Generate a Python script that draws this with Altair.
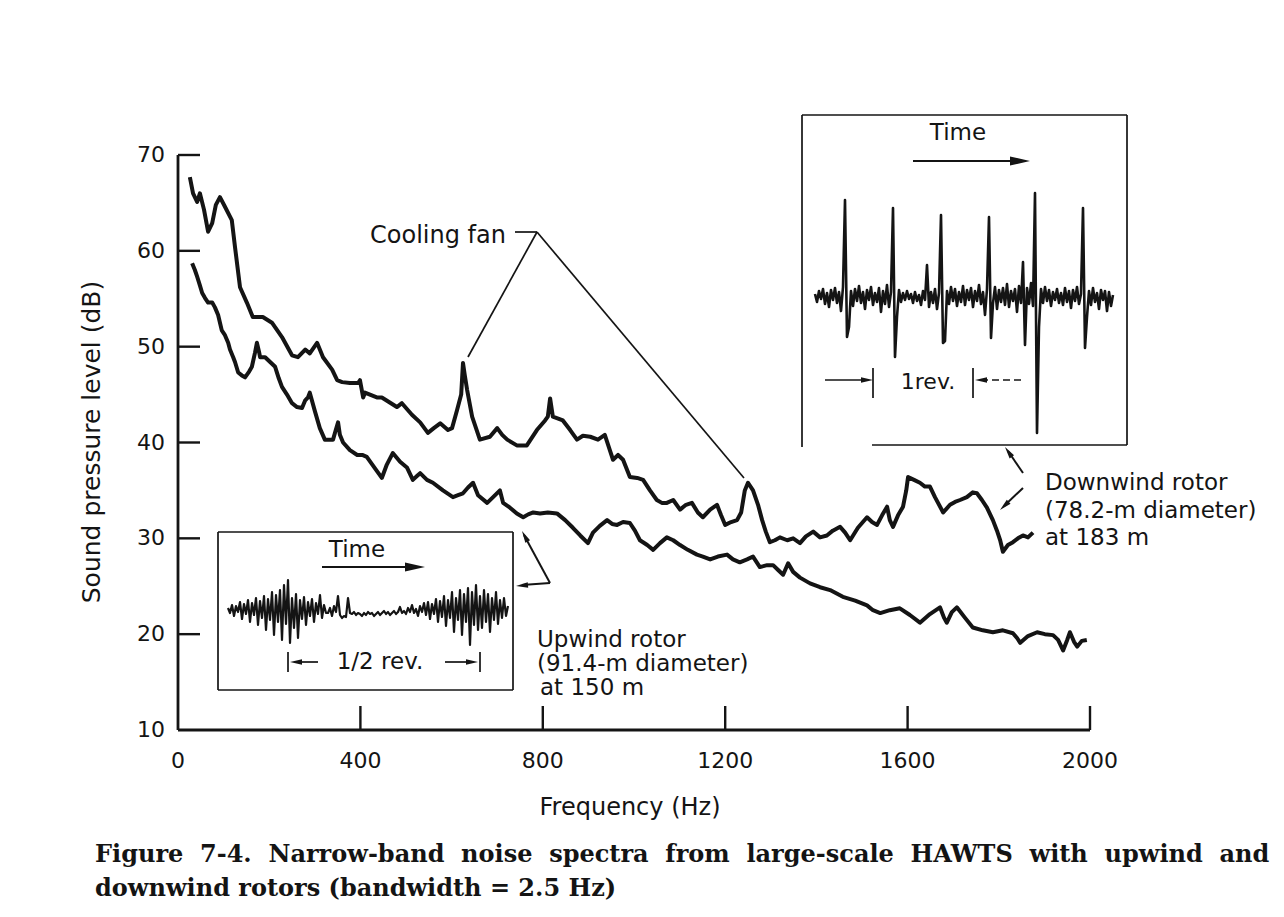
import altair as alt
import pandas as pd

INK = "#141414"
SANS = "DejaVu Sans"
SERIF = "DejaVu Serif"

# ---------------- data ----------------
# Downwind rotor (78.2-m diameter) at 183 m : frequency (Hz) / level (dB)
down_freq = [26, 33, 42, 48, 57, 66, 75, 83, 92, 103, 118, 125, 136, 151, 164, 186, 206, 228, 250, 263,
             279, 289, 305, 318, 338, 349, 360, 377, 395, 399, 406, 410, 436, 447, 480, 491, 513, 531, 548, 561,
             575, 592, 601, 612, 621, 625, 629, 634, 645, 662, 684, 700, 711, 722, 743, 765, 787, 805, 811, 816,
             822, 844, 860, 875, 888, 904, 921, 936, 947, 954, 965, 976, 991, 1007, 1020, 1035, 1050, 1061, 1072, 1086,
             1101, 1114, 1127, 1140, 1151, 1167, 1182, 1191, 1200, 1213, 1226, 1235, 1243, 1250, 1261, 1272, 1281, 1289, 1298, 1309,
             1320, 1336, 1349, 1364, 1377, 1393, 1408, 1423, 1436, 1452, 1463, 1474, 1491, 1511, 1522, 1533, 1544, 1555, 1561, 1568,
             1579, 1590, 1597, 1601, 1614, 1627, 1638, 1649, 1660, 1678, 1693, 1704, 1715, 1730, 1743, 1752, 1763, 1774, 1787, 1796,
             1803, 1809, 1820, 1831, 1842, 1853, 1864, 1875]
down_db = [67.7, 66.0, 65.1, 66.0, 64.3, 62.0, 62.9, 64.8, 65.6, 64.6, 63.2, 60.4, 56.2, 54.6, 53.1, 53.1, 52.5, 51.0, 49.1, 48.9,
           49.7, 49.3, 50.4, 48.9, 47.6, 46.5, 46.3, 46.2, 46.2, 46.5, 44.7, 45.2, 44.7, 44.7, 43.7, 44.1, 42.9, 42.1, 41.0, 41.5,
           42.0, 41.3, 41.5, 43.4, 45.0, 48.3, 47.0, 45.5, 42.7, 40.3, 40.6, 41.5, 40.8, 40.3, 39.7, 39.7, 41.3, 42.3, 42.7, 44.6,
           42.7, 42.3, 41.3, 40.3, 40.7, 40.6, 40.3, 40.8, 39.2, 38.2, 38.7, 38.2, 36.4, 36.3, 36.1, 35.0, 34.0, 33.7, 33.7, 34.0,
           33.0, 33.5, 33.7, 32.7, 32.2, 33.0, 33.5, 32.4, 31.4, 31.7, 31.9, 32.7, 35.0, 35.8, 35.0, 33.5, 31.9, 30.7, 29.6, 29.8,
           30.1, 29.8, 30.0, 29.5, 30.2, 30.7, 30.1, 30.3, 30.8, 31.2, 30.6, 29.8, 31.1, 32.2, 31.7, 31.4, 32.4, 33.3, 31.9, 31.2,
           32.4, 33.3, 35.0, 36.4, 36.1, 35.8, 35.4, 35.4, 34.3, 32.7, 33.5, 33.8, 34.0, 34.3, 34.8, 34.7, 34.0, 33.2, 31.9, 30.8,
           29.8, 28.6, 29.3, 29.6, 30.0, 30.3, 30.1, 30.6]

# Upwind rotor (91.4-m diameter) at 150 m
up_freq = [31, 37, 42, 48, 53, 59, 66, 75, 81, 88, 96, 103, 110, 114, 121, 125, 132, 140, 147, 156,
           162, 169, 173, 178, 180, 191, 202, 213, 221, 228, 239, 250, 261, 272, 279, 285, 289, 300, 311, 322,
           340, 346, 351, 355, 362, 377, 393, 404, 414, 432, 447, 458, 471, 487, 502, 515, 524, 531, 546, 559,
           581, 603, 614, 625, 636, 647, 658, 678, 691, 706, 713, 728, 743, 757, 768, 779, 794, 811, 831, 849,
           866, 882, 899, 904, 910, 925, 941, 952, 963, 976, 991, 1002, 1013, 1029, 1042, 1057, 1072, 1086, 1101, 1118,
           1138, 1151, 1167, 1184, 1204, 1217, 1232, 1248, 1261, 1276, 1292, 1305, 1316, 1327, 1338, 1349, 1364, 1386, 1408, 1430,
           1458, 1485, 1511, 1524, 1540, 1561, 1583, 1605, 1627, 1649, 1671, 1680, 1686, 1697, 1708, 1726, 1743, 1765, 1787, 1809,
           1831, 1840, 1847, 1864, 1884, 1901, 1919, 1930, 1941, 1950, 1956, 1965, 1972, 1982, 1993]
up_db = [58.7, 58.0, 57.3, 56.4, 55.6, 55.1, 54.6, 54.6, 54.1, 53.3, 51.7, 51.2, 50.4, 49.7, 48.9, 48.4, 47.3, 47.0, 46.8, 47.4,
         47.9, 49.4, 50.4, 49.4, 48.9, 48.9, 48.4, 47.9, 46.7, 45.8, 45.0, 44.1, 43.7, 43.6, 44.4, 44.7, 45.2, 43.3, 41.5, 40.3,
         40.3, 41.3, 42.1, 40.8, 40.0, 39.2, 38.7, 38.7, 38.5, 37.3, 36.3, 37.7, 38.9, 38.0, 37.4, 36.1, 36.5, 36.8, 36.1, 35.8,
         35.0, 34.3, 34.5, 34.7, 35.3, 35.8, 34.5, 33.7, 34.3, 35.0, 33.7, 33.2, 32.6, 32.2, 32.5, 32.7, 32.6, 32.7, 32.6, 31.9,
         31.1, 30.3, 29.5, 30.0, 30.6, 31.3, 31.9, 31.5, 31.4, 31.7, 31.6, 30.8, 29.8, 29.3, 28.8, 29.5, 30.1, 29.8, 29.3, 28.8,
         28.3, 28.1, 27.8, 28.1, 28.3, 27.8, 27.5, 27.8, 28.1, 27.0, 27.2, 27.2, 26.7, 26.2, 27.4, 26.5, 25.9, 25.3, 24.9, 24.6,
         23.9, 23.5, 23.0, 22.5, 22.2, 22.5, 22.7, 22.0, 21.2, 22.1, 22.8, 21.7, 21.2, 22.3, 22.8, 21.7, 20.7, 20.4, 20.2, 20.4,
         20.1, 19.6, 19.1, 19.8, 20.2, 20.0, 19.9, 19.4, 18.3, 19.4, 20.2, 19.2, 18.7, 19.3, 19.4]

# inset time traces (relative amplitude, one sample per step)
down_trace = [3, -5, 6, -2, 8, -7, 4, -10, 7, -3, 9, -6, 5, -14, 10, 97, -40, -30, 6, -9,
              8, -4, 11, -6, 5, -12, 7, -3, 10, -8, 4, -5, 9, -15, 6, -7, 12, -10, 5, 89,
              -60, -20, 7, -5, 4, -3, 6, -2, 3, -6, 5, -4, 2, -8, 6, -3, 32, -10, 5, -6,
              8, -12, 4, 82, -46, -44, 6, -7, 10, -4, 8, -9, 5, -5, 11, -8, 7, -3, 9, -10,
              6, -4, 12, -7, 5, -18, 8, 80, -41, -6, 10, -12, 7, -5, 9, -8, 13, -10, 6, -4,
              8, -15, 11, -6, 35, -48, 9, -7, 14, -9, 104, -136, -30, 8, -6, 10, -4, 7, -9, 5,
              -3, 8, -6, 4, -8, 9, -5, 6, -11, 7, -4, 10, -7, 3, 89, -51, -20, 6, -8, 9,
              -5, 4, -12, 7, -3, 6, -14, 5, -9, 2]
up_trace = [2, -3, 5, -6, 4, -2, 8, -9, 6, -4, 10, -12, 7, -5, 12, -15, 9, -8, 14, -20,
            11, -10, 18, -25, 15, -12, 20, -30, 25, -14, 30, -33, 12, -18, 16, -28, 10, -9, 13, -15,
            8, -6, 11, -12, 7, -4, 15, -8, 5, -3, -3, 2, -6, 4, -2, 14, -5, -8, -6, -7,
            12, -3, -4, -2, -5, -3, -4, -6, -3, -5, -2, -4, -3, -6, -4, -2, -5, -3, -1, -4,
            -2, -5, -3, -1, -4, -2, 3, -3, -1, -4, 2, -2, 5, -3, 1, -6, 4, -2, 7, -5,
            8, -9, 6, -4, 11, -12, 9, -7, 14, -16, 10, -8, 18, -22, 12, -10, 20, -25, 16, -12,
            22, -35, 18, -15, 25, -20, 14, -18, 20, -12, 16, -22, 12, -10, 18, -14, 10, -8, 12, -6, 4]

x_labels = [0, 400, 800, 1200, 1600, 2000]
y_labels = [10, 20, 30, 40, 50, 60, 70]
x_ticks = [400, 800, 1200, 1600, 2000]
y_ticks = [20, 30, 40, 50, 60, 70]
x_title = "Frequency (Hz)"
y_title = "Sound pressure level (dB)"

caption1 = "Figure 7-4. Narrow-band noise spectra from large-scale HAWTS with upwind and"
caption2 = "downwind rotors (bandwidth = 2.5 Hz)"

if len(down_freq) != len(down_db) or len(up_freq) != len(up_db):
    raise SystemExit("length mismatch %d %d %d %d" % (len(down_freq), len(down_db), len(up_freq), len(up_db)))

# ---------------- chart ----------------
W, H = 912, 575
XMAX, YMIN, YMAX = 2000, 10, 70
xs = alt.Scale(domain=[0, XMAX], nice=False, zero=False)
ys = alt.Scale(domain=[YMIN, YMAX], nice=False, zero=False)

spec_df = pd.concat([
    pd.DataFrame({"f": down_freq, "db": down_db, "rotor": "Downwind"}),
    pd.DataFrame({"f": up_freq, "db": up_db, "rotor": "Upwind"}),
])

curves = alt.Chart(spec_df).mark_line(color=INK, strokeWidth=4, strokeJoin="round").encode(
    x=alt.X("f:Q", scale=xs, axis=None),
    y=alt.Y("db:Q", scale=ys, axis=None),
    detail="rotor:N",
)

# axis ticks (inward) and tick labels, positioned through the same scales
xt = alt.Chart(pd.DataFrame({"f": x_ticks})).mark_rule(color=INK, strokeWidth=2.4).encode(
    x=alt.X("f:Q", scale=xs, axis=None), y=alt.value(H - 24), y2=alt.value(H))
yt = alt.Chart(pd.DataFrame({"db": y_ticks})).mark_rule(color=INK, strokeWidth=2.4).encode(
    y=alt.Y("db:Q", scale=ys, axis=None), x=alt.value(0), x2=alt.value(22))
xl = alt.Chart(pd.DataFrame({"f": x_labels, "lab": [str(v) for v in x_labels]})).mark_text(
    font=SANS, fontSize=22, color=INK, align="center", baseline="middle").encode(
    x=alt.X("f:Q", scale=xs, axis=None), y=alt.value(H + 31), text="lab:N")
yl = alt.Chart(pd.DataFrame({"db": y_labels, "lab": [str(v) for v in y_labels]})).mark_text(
    font=SANS, fontSize=22, color=INK, align="right", baseline="middle").encode(
    y=alt.Y("db:Q", scale=ys, axis=None), x=alt.value(-13), text="lab:N")


def inset_trace(values, left, base, step, width):
    # sample i drawn at pixel (left + i*step, base - value), expressed in the main scales
    df = pd.DataFrame({"i": list(range(len(values))), "v": values})
    return alt.Chart(df).transform_calculate(
        fx=f"({left} + datum.i * {step}) * {XMAX} / {W}",
        fy=f"{YMAX} - ({base} - datum.v) * {YMAX - YMIN} / {H}",
    ).mark_line(color=INK, strokeWidth=width, strokeJoin="round").encode(
        x=alt.X("fx:Q", scale=xs, axis=None),
        y=alt.Y("fy:Q", scale=ys, axis=None),
        order="i:Q",
    )


trace1 = inset_trace(down_trace, 637, 142, 2, 2.6)
trace2 = inset_trace(up_trace, 50, 455, 2, 2.2)

one = pd.DataFrame({"k": [0]})
ARROW = "M -2 -0.45 L 0 0 L -2 0.45 Z"


def txt(s, x, y, size=23, align="left", font=SANS, weight="normal", angle=0):
    return alt.Chart(one).mark_text(text=s, align=align, baseline="middle", fontSize=size, font=font,
                                    fontWeight=weight, color=INK, angle=angle).encode(
        x=alt.value(x), y=alt.value(y))


def seg(x1, y1, x2, y2, w=1.7, dash=None):
    kw = dict(color=INK, strokeWidth=w)
    if dash:
        kw["strokeDash"] = dash
    return alt.Chart(one).mark_rule(**kw).encode(x=alt.value(x1), y=alt.value(y1),
                                                 x2=alt.value(x2), y2=alt.value(y2))


def head(x, y, ang, size=144):
    return alt.Chart(one).mark_point(shape=ARROW, filled=True, size=size, angle=ang, color=INK,
                                     opacity=1, strokeWidth=0).encode(x=alt.value(x), y=alt.value(y))


# justified first caption line: widen each word gap with a no-break space
caption1_just = caption1.replace(" ", " \u00a0")

deco = [
    # axis lines and titles
    seg(0, 0, 0, H, 2.8), seg(0, H, W, H, 2.8),
    txt(x_title, 452, H + 78, 24, align="center"),
    txt(y_title, -86, 287, 25, align="center", angle=270),
    # downwind inset frame
    seg(624, -40, 949, -40), seg(624, -40, 624, 292), seg(949, -40, 949, 290), seg(694, 290, 949, 290),
    txt("Time", 780, -22, align="center"),
    seg(735, 6, 840, 6, 2), head(852, 6, 0, 400),
    seg(647, 225, 689, 225), head(695, 225, 0), seg(695, 213, 695, 243),
    txt("1rev.", 750, 227, 22, align="center"),
    seg(795, 213, 795, 243), head(797, 225, 180), seg(803, 225, 844, 225, dash=[7, 4]),
    # upwind inset frame
    seg(40, 377, 335, 377), seg(40, 377, 40, 535), seg(335, 377, 335, 535), seg(40, 535, 335, 535),
    txt("Time", 179, 395, align="center"),
    seg(144, 412, 235, 412, 2), head(247, 412, 0, 400),
    seg(110, 497, 110, 517), head(112, 507, 180), seg(118, 507, 140, 507),
    txt("1/2 rev.", 202, 507, 23, align="center"),
    seg(267, 507, 294, 507), head(300, 507, 0), seg(302, 497, 302, 517),
    # cooling fan call-out
    txt("Cooling fan", 192, 81, 24),
    seg(337, 77, 359, 77), seg(359, 77, 290, 202), seg(359, 77, 566, 323),
    # upwind label + pointers
    txt("Upwind rotor", 359, 485), txt("(91.4-m diameter)", 359, 509), txt("at 150 m", 362, 533),
    seg(372, 428, 346, 380, 2), head(344, 376, 241.7),
    seg(372, 428, 344, 430, 2), head(338, 431, 175),
    # downwind label + pointers
    txt("Downwind rotor", 867, 328), txt("(78.2-m diameter)", 867, 356), txt("at 183 m", 867, 383),
    seg(845, 318, 830, 296, 2), head(827, 292, 235.3),
    seg(845, 333, 826, 351, 2), head(822, 355, 136.3),
    # caption
    txt(caption1_just, -83, 700, 24, font=SERIF, weight="bold"),
    txt(caption2, -83, 734, 24, font=SERIF, weight="bold"),
]

chart = alt.layer(curves, xt, yt, xl, yl, trace1, trace2, *deco).properties(
    width=W, height=H,
    autosize=alt.AutoSizeParams(type="none"),
    padding={"left": 170, "top": 147, "right": 184, "bottom": 175},
    background="white",
).configure_view(stroke=None)

chart.save("out.html", embed_options={"renderer": "svg", "actions": False})
